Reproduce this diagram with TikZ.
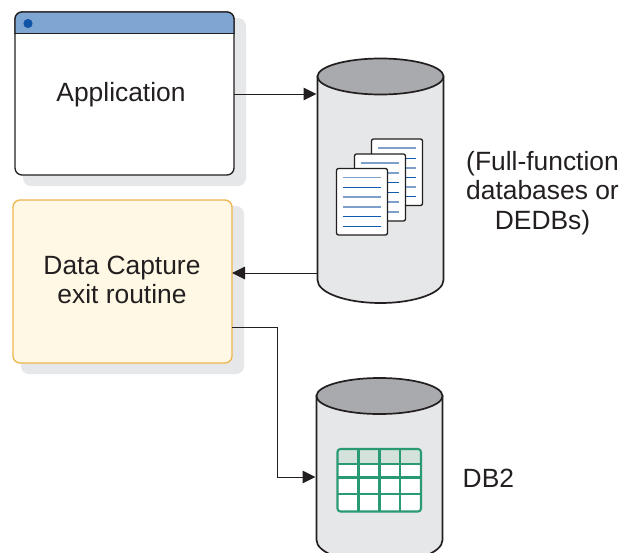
\documentclass[tikz,border=0pt]{standalone}
\usepackage{fontspec}
\setmainfont{Liberation Sans}
\usetikzlibrary{arrows.meta,calc}
\definecolor{ink}{HTML}{231F20}
\definecolor{shadowgray}{HTML}{E6E7E9}
\definecolor{titleblue}{HTML}{7FA5D3}
\definecolor{dotblue}{HTML}{0F55A5}
\definecolor{creamfill}{HTML}{FEF8E4}
\definecolor{orangeline}{HTML}{F0B44F}
\definecolor{cyltop}{HTML}{A8AAAD}
\definecolor{lineblue}{HTML}{0F5BAF}
\definecolor{lightlineblue}{HTML}{7F9FCB}
\definecolor{tablegreen}{HTML}{2A9A74}
\definecolor{headgreen}{HTML}{D3E3DC}
\tikzset{
  x=1pt,y=-1pt,
  label text/.style={font=\fontsize{26.4}{29.5}\selectfont,text=ink,align=center,inner sep=0pt},
  shadow box/.style={fill=shadowgray,rounded corners=8pt},
  cylbody/.style={draw=ink,line width=1.7pt,fill=shadowgray},
  cyllid/.style={draw=ink,line width=1.7pt,fill=cyltop},
  conn/.style={draw=ink,line width=1pt,-{Triangle[length=13pt,width=12.5pt]}},
  sheet/.style={draw=ink,line width=1.3pt,fill=white,rounded corners=2pt},
  darkrule/.style={draw=lineblue,line width=1pt},
  lightrule/.style={draw=lightlineblue,line width=1.3pt},
  grid line/.style={draw=tablegreen,line width=2.1pt},
}
\begin{document}
\begin{tikzpicture}
\useasboundingbox (0,0) rectangle (621,552);
\clip (0,0) rectangle (621,552);
\fill[white] (0,0) rectangle (621,552);

% Application window
\fill[shadow box] (23,18) rectangle (246,186);
\node[draw=ink,line width=1.3pt,fill=white,rounded corners=7pt,minimum width=219pt,minimum height=163pt,inner sep=0pt,outer sep=0pt,anchor=north west] (app) at (15,12) {};
\begin{scope}
  \clip[rounded corners=7pt] (15,12) rectangle (234,175);
  \fill[titleblue] (15,12) rectangle (234,34);
\end{scope}
\draw[ink,line width=1.3pt,rounded corners=7pt] (15,34) -- (15,12) -- (234,12) -- (234,34);
\draw[ink,line width=1.5pt] (15,33.5) -- (234,33.5);
\fill[dotblue] (28,23.5) circle (4.6);
\node[label text] (apptext) at (121,94.5) {Application};

% Data capture box
\fill[shadow box] (21,206) rectangle (244,374);
\node[draw=orangeline,line width=1.3pt,fill=creamfill,rounded corners=7pt,minimum width=219pt,minimum height=163pt,inner sep=0pt,outer sep=0pt,anchor=north west] (capture) at (13,200) {};
\node[label text] (capturetext) at (122,280) {Data Capture\\exit routine};

% Upper cylinder
\path[cylbody] (317.5,76.5) -- (317.5,280) .. controls (317.5,292.7) and (345.7,303) .. (380.5,303) .. controls (415.3,303) and (443.5,292.7) .. (443.5,280) -- (443.5,76.5) -- cycle;
\path[cyllid] (380.5,76.5) ellipse[x radius=63,y radius=18];
\coordinate (db1in) at (316.5,94);
\coordinate (db1out) at (317,273);

% Document stack
\path[sheet] (371.5,139) rectangle (422.5,205.5);
\foreach \yy/\st in {148/lightrule,158/darkrule,168/lightrule,177/darkrule,187/lightrule,196/darkrule}
  \draw[\st] (378,\yy) -- (416,\yy);
\path[sheet] (354.5,154) rectangle (405.5,221);
\foreach \yy/\st in {163/lightrule,173/lightrule,182/darkrule,192/darkrule,202/lightrule,212/lightrule}
  \draw[\st] (361,\yy) -- (399,\yy);
\path[sheet] (336.5,168.5) rectangle (387.5,235);
\foreach \yy/\st in {177.5/lightrule,187/darkrule,197/lightrule,207/lightrule,216.5/darkrule,226/darkrule}
  \draw[\st] (343,\yy) -- (381,\yy);

% Lower cylinder
\path[cylbody] (316.5,396) -- (316.5,540) .. controls (316.5,552.7) and (344.7,563) .. (379.5,563) .. controls (414.3,563) and (442.5,552.7) .. (442.5,540) -- (442.5,396) -- cycle;
\path[cyllid] (379.5,396) ellipse[x radius=63,y radius=18];
\coordinate (db2in) at (315.5,477);

% Table
\fill[headgreen] (338,450) rectangle (421,464);
\fill[white] (338,464) rectangle (421,511);
\foreach \xx in {358.5,379.5,400}
  \draw[grid line] (\xx,449) -- (\xx,511.5);
\foreach \yy in {464,477.5,494}
  \draw[grid line] (337,\yy) -- (421,\yy);
\draw[grid line,rounded corners=3pt] (337.5,449) rectangle (421,511.5);

% Labels
\node[label text] (dblabel) at (542.5,193) {(Full-function\\databases or\\DEDBs)};
\node[label text,anchor=west] (db2label) at (462.5,478) {DB2};

% Connectors
\coordinate (appout) at (app.east |- db1in);
\coordinate (capin) at (capture.east |- db1out);
\coordinate (capout) at ($(capture.east)+(0,45.5)$);
\coordinate (elbow1) at (277.5,327);
\coordinate (elbow2) at (277.5,477);
\draw[conn] (appout) -- (db1in);
\draw[conn] (db1out) -- (capin);
\draw[conn] (capout) -- (elbow1) -- (elbow2) -- (db2in);
\end{tikzpicture}
\end{document}
